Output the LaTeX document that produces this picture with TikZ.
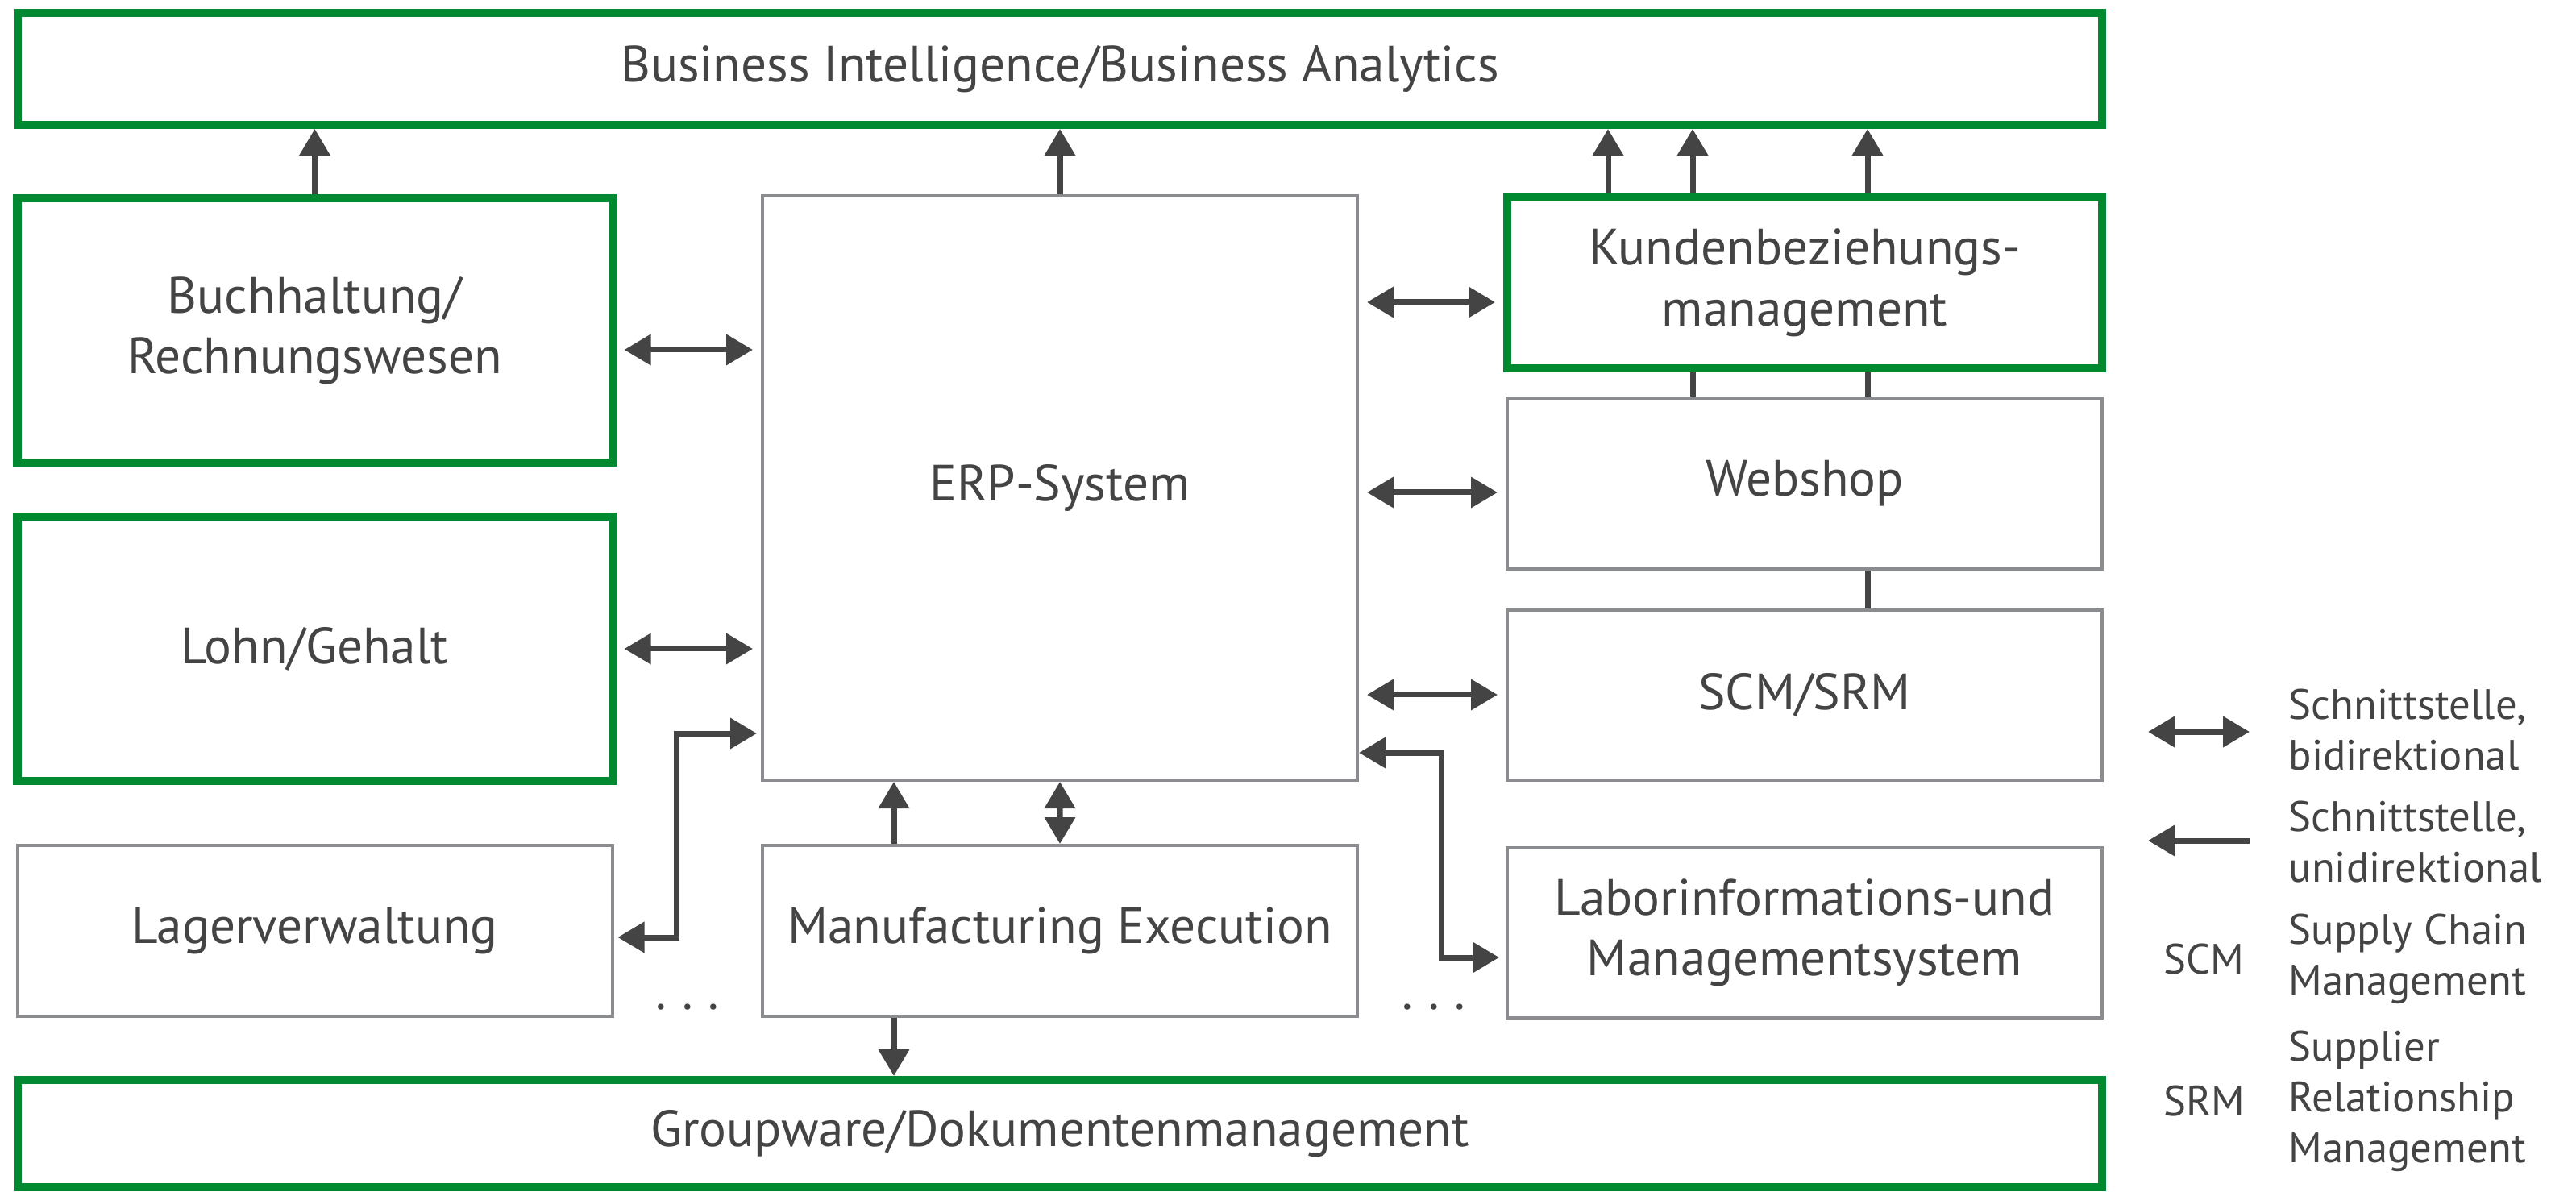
\documentclass[tikz,border=0pt]{standalone}
\usepackage{fontspec}
\setmainfont{PT Sans}
\usetikzlibrary{arrows.meta,positioning}
\definecolor{boxgreen}{RGB}{0,137,48}
\definecolor{boxgray}{RGB}{138,140,143}
\definecolor{ink}{RGB}{68,68,68}

\begin{document}
\begin{tikzpicture}[>={Triangle[width=0.37cm,length=0.33cm]},on grid,
  every node/.style={text=ink,font=\fontsize{18}{21.5}\selectfont,align=center,inner sep=0pt},
  greenbox/.style={draw=boxgreen,line width=0.1cm,fill=white,minimum width=7.38cm,minimum height=2.12cm},
  graybox/.style={draw=boxgray,line width=0.04cm,fill=white,minimum width=7.38cm,minimum height=2.12cm},
  link/.style={color=ink,line width=0.07cm},
  legtext/.style={font=\fontsize{15}{17.9}\selectfont,align=left,anchor=west},
  legabbr/.style={font=\fontsize{15}{17.9}\selectfont}]

\useasboundingbox (0,0) rectangle (31.96,-14.79);

  \node[greenbox,minimum width=25.86cm,minimum height=1.39cm]	(bi)	at (13.15,-0.855)	{Business Intelligence/Business Analytics};
  \node[greenbox,minimum height=3.28cm]	(buch)	at (3.905,-4.10)	{Buchhaltung/\\Rechnungswesen};
  \node[greenbox,minimum height=3.28cm]	(lohn)	[below=3.95cm of buch]	{Lohn/Gehalt};
  \node[graybox]	(lager)	[below=3.5cm of lohn]	{Lagerverwaltung};
  \node[graybox,minimum height=7.25cm]	(erp)	at (13.15,-6.055)	{ERP-System};
  \node[graybox]	(mes)	[right=9.245cm of lager]	{Manufacturing Execution};
  \node[greenbox]	(kunden)	at (22.39,-3.51)	{Kundenbeziehungs-\\management};
  \node[graybox]	(web)	[below=2.49cm of kunden]	{Webshop};
  \node[graybox,minimum height=2.11cm]	(scm)	[below=2.625cm of web]	{SCM/SRM};
  \node[graybox,minimum height=2.11cm]	(labor)	[below=2.95cm of scm]	{Laborinformations-und\\Managementsystem};
  \node[greenbox,minimum width=25.86cm,minimum height=1.33cm]	(grp)	at (13.15,-14.065)	{Groupware/Dokumentenmanagement};

  \node	(dots1)	at (8.53,-12.50)	{.\hspace{5.4pt}.\hspace{5.4pt}.};
  \node	(dots2)	at (17.79,-12.50)	{.\hspace{5.4pt}.\hspace{5.4pt}.};

 \path[->,link]
     (buch.north)	edge	(buch.north |- bi.south)
     (erp.north)	edge	(erp.north |- bi.south)
     (19.95,0 |- kunden.north)	edge	(19.95,0 |- bi.south)
     (21.00,0 |- kunden.north)	edge	(21.00,0 |- bi.south)
     (23.17,0 |- kunden.north)	edge	(23.17,0 |- bi.south)
     (11.09,0 |- mes.north)	edge	(11.09,0 |- erp.south)
     (11.09,0 |- mes.south)	edge	(11.09,0 |- grp.north)
  ;
 \path[-,link]
     (21.00,0 |- web.north)	edge	(21.00,0 |- kunden.south)
     (23.17,0 |- web.north)	edge	(23.17,0 |- kunden.south)
     (23.17,0 |- scm.north)	edge	(23.17,0 |- web.south)
  ;
 \path[<->,link,shorten <=0.1cm,shorten >=0.1cm]
     (buch.east |- 0,-4.34)	edge	(erp.west |- 0,-4.34)
     (lohn.east)	edge	(lohn.east -| erp.west)
     (erp.east |- 0,-3.75)	edge	(kunden.west |- 0,-3.75)
     (erp.east |- 0,-6.11)	edge	(web.west |- 0,-6.11)
     (erp.east |- 0,-8.62)	edge	(scm.west |- 0,-8.62)
  ;
 \path[<->,link]
     (mes.north)	edge	(erp.south)
  ;
\draw[<->,link,shorten <=0.05cm,shorten >=0.05cm] (erp.west |- 0,-9.10) -| (8.39,-11.63) -- (lager.east |- 0,-11.63);
\draw[<->,link,shorten >=0.08cm] (erp.east |- 0,-9.34) -| (17.88,-11.88) -- (labor.west |- 0,-11.88);

  \coordinate	(b1)	at (26.65,-9.08);
  \coordinate	(b2)	at (27.91,-9.08);
  \coordinate	(u1)	at (26.65,-10.43);
  \coordinate	(u2)	at (27.91,-10.43);
\draw[<->,link] (b1) -- (b2);
\draw[->,link] (u2) -- (u1);
  \node[legtext]	(l1)	at (28.39,-9.06)	{Schnittstelle,\\bidirektional};
  \node[legtext]	(l2)	at (28.39,-10.45)	{Schnittstelle,\\unidirektional};
  \node[legtext]	(l3)	at (28.39,-11.90)	{Supply Chain\\Management};
  \node[legtext]	(l4)	at (28.39,-13.66)	{Supplier\\Relationship\\Management};
  \node[legabbr]	(a1)	at (27.345,-11.90)	{SCM};
  \node[legabbr]	(a2)	at (27.345,-13.66)	{SRM};
\end{tikzpicture}
\end{document}
